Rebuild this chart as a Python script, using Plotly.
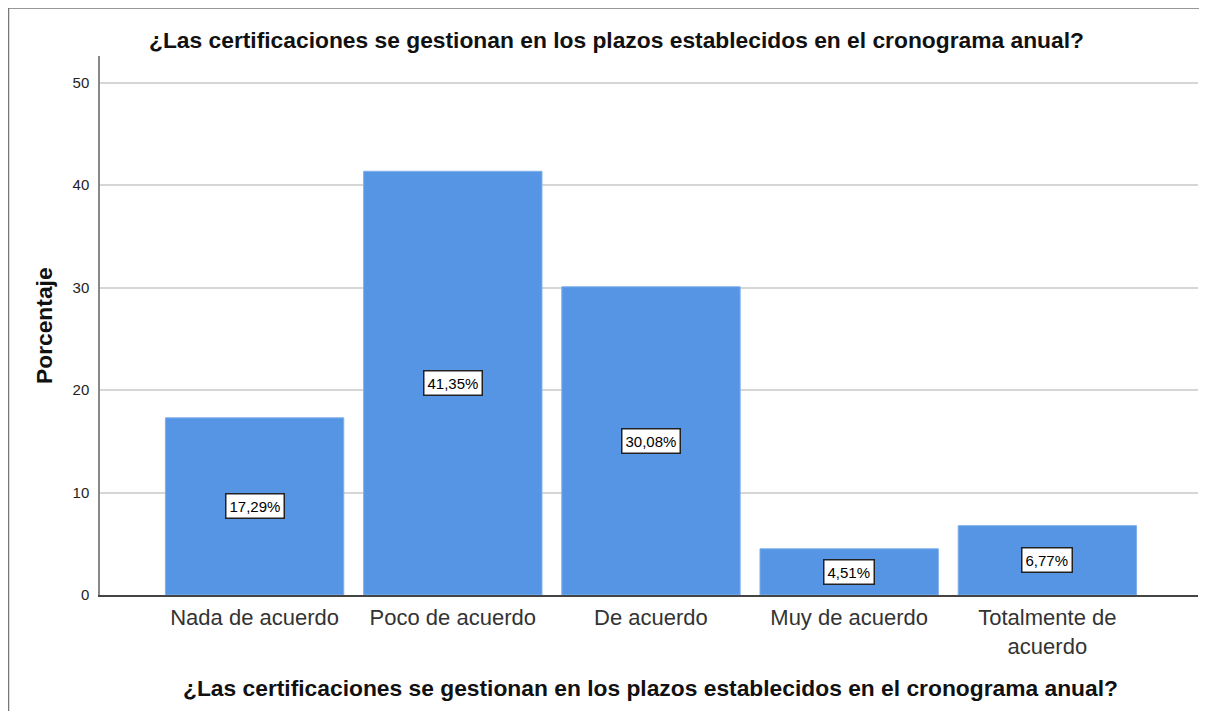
import plotly.graph_objects as go

categories = ["Nada de acuerdo", "Poco de acuerdo", "De acuerdo", "Muy de acuerdo", "Totalmente de<br>acuerdo"]
values = [17.29, 41.35, 30.08, 4.51, 6.77]
labels = ["17,29%", "41,35%", "30,08%", "4,51%", "6,77%"]
title = "¿Las certificaciones se gestionan en los plazos establecidos en el cronograma anual?"

OFF = 8  # browser body margin
W, H = 1207 - OFF, 711 - OFF
L, R, T, B = 100 - OFF, 9, 56 - OFF, 116
FONT = "Liberation Sans, Arial, sans-serif"

fig = go.Figure()
fig.add_trace(go.Bar(
    x=list(range(len(categories))), y=values,
    marker=dict(color="#5595E3", line=dict(color="#7fb0ec", width=1)),
    width=0.9, hoverinfo="skip"
))

for i, (v, lab) in enumerate(zip(values, labels)):
    fig.add_annotation(x=i, y=v / 2, xref="x", yref="y", text=lab, showarrow=False,
                       font=dict(family=FONT, size=15, color="#000"),
                       bgcolor="white", bordercolor="#222", borderwidth=1.5, borderpad=3)

pw = W - L - R
ph = H - T - B
def px(x):  # screenshot pixel -> paper
    return (x - OFF - L) / pw
def py(y):
    return (H - B - (y - OFF)) / ph

# outer frame
fig.add_shape(type="rect", xref="paper", yref="paper",
              x0=px(8.5), x1=px(1200), y0=py(740), y1=py(8),
              line=dict(color="#777", width=1.5), fillcolor="rgba(0,0,0,0)", layer="below")

fig.add_annotation(xref="paper", yref="paper", x=px(616), y=py(40), text="<b>" + title + "</b>",
                   showarrow=False, font=dict(family=FONT, size=22.8, color="#111"),
                   xanchor="center", yanchor="middle")
fig.add_annotation(xref="paper", yref="paper", x=px(650), y=py(688), text="<b>" + title + "</b>",
                   showarrow=False, font=dict(family=FONT, size=22.8, color="#111"),
                   xanchor="center", yanchor="middle")
fig.add_annotation(xref="paper", yref="paper", x=px(44), y=py(325), text="<b>Porcentaje</b>",
                   showarrow=False, textangle=-90, font=dict(family=FONT, size=22.8, color="#111"),
                   xanchor="center", yanchor="middle")

fig.update_layout(
    width=W, height=H,
    margin=dict(l=L, r=R, t=T, b=B, autoexpand=False),
    paper_bgcolor="white", plot_bgcolor="white",
    showlegend=False,
    font=dict(family=FONT),
    bargap=0.1,
)
fig.update_xaxes(
    range=[-0.78, 4.76], tickmode="array", tickvals=list(range(len(categories))),
    ticktext=categories, tickfont=dict(family=FONT, size=22, color="#333"),
    showgrid=False, showline=True, linecolor="#444", linewidth=1.5,
    ticks="", zeroline=False, ticklabelstandoff=2,
)
fig.update_yaxes(
    range=[0, 52.6], tickvals=[0, 10, 20, 30, 40, 50],
    tickfont=dict(family=FONT, size=15, color="#222"),
    showgrid=True, gridcolor="#d6d6d6", gridwidth=1.5,
    showline=True, linecolor="#888", linewidth=1.5, ticks="", zeroline=False,
    ticklabelstandoff=6,
)

fig.write_html("out.html")
